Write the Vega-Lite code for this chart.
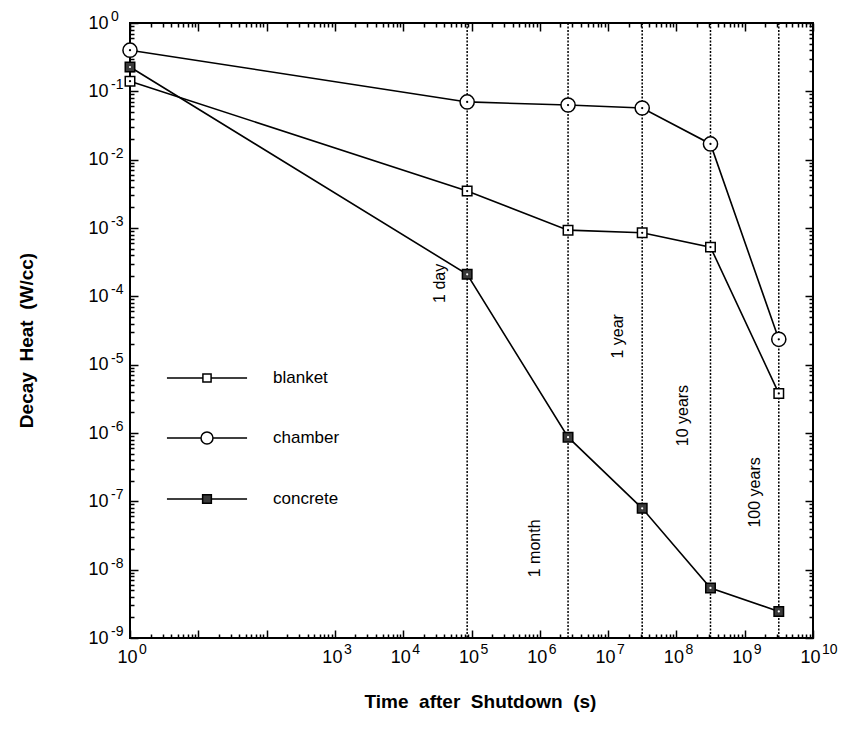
{
  "$schema": "https://vega.github.io/schema/vega-lite/v6.json",
  "width": 683,
  "height": 615,
  "autosize": "none",
  "padding": {"left": 130, "top": 23, "right": 37, "bottom": 91},
  "background": "white",
  "config": {
    "view": {"stroke": "black", "strokeWidth": 2},
    "font": "Liberation Sans",
    "axis": {"labelColor": "black", "tickColor": "black", "titleColor": "black", "grid": false, "domain": false}
  },
  "datasets": {
    "series": [
      {"series": "blanket", "t": 1, "value": 0.141},
      {"series": "blanket", "t": 86400, "value": 0.00347},
      {"series": "blanket", "t": 2592000, "value": 0.00093},
      {"series": "blanket", "t": 31560000, "value": 0.00085},
      {"series": "blanket", "t": 315600000, "value": 0.000525},
      {"series": "blanket", "t": 3156000000, "value": 0.0000038},
      {"series": "chamber", "t": 1, "value": 0.40},
      {"series": "chamber", "t": 86400, "value": 0.070},
      {"series": "chamber", "t": 2592000, "value": 0.063},
      {"series": "chamber", "t": 31560000, "value": 0.057},
      {"series": "chamber", "t": 315600000, "value": 0.017},
      {"series": "chamber", "t": 3156000000, "value": 0.0000235},
      {"series": "concrete", "t": 1, "value": 0.227},
      {"series": "concrete", "t": 86400, "value": 0.00021},
      {"series": "concrete", "t": 2592000, "value": 8.7e-7},
      {"series": "concrete", "t": 31560000, "value": 7.9e-8},
      {"series": "concrete", "t": 315600000, "value": 5.4e-9},
      {"series": "concrete", "t": 3156000000, "value": 2.45e-9}
    ],
    "events": [
      {"label": "1 day", "t": 86400, "lx": 35000, "ly": 1.55e-4},
      {"label": "1 month", "t": 2592000, "lx": 850000, "ly": 2.05e-8},
      {"label": "1 year", "t": 31560000, "lx": 13900000, "ly": 2.6e-5},
      {"label": "10 years", "t": 315600000, "lx": 125000000, "ly": 1.8e-6},
      {"label": "100 years", "t": 3156000000, "lx": 1410000000, "ly": 1.35e-7}
    ],
    "xexp": [
      {"v": 1, "e": "0"}, {"v": 1e3, "e": "3"}, {"v": 1e4, "e": "4"}, {"v": 1e5, "e": "5"},
      {"v": 1e6, "e": "6"}, {"v": 1e7, "e": "7"}, {"v": 1e8, "e": "8"}, {"v": 1e9, "e": "9"}, {"v": 1e10, "e": "10"}
    ],
    "yexp": [
      {"v": 1, "e": "0"}, {"v": 0.1, "e": "-1"}, {"v": 0.01, "e": "-2"}, {"v": 1e-3, "e": "-3"}, {"v": 1e-4, "e": "-4"},
      {"v": 1e-5, "e": "-5"}, {"v": 1e-6, "e": "-6"}, {"v": 1e-7, "e": "-7"}, {"v": 1e-8, "e": "-8"}, {"v": 1e-9, "e": "-9"}
    ]
  },
  "layer": [
    {
      "data": {"name": "events"},
      "mark": {"type": "rule", "strokeDash": [2, 1.5], "strokeWidth": 1.5, "color": "black"},
      "encoding": {
        "x": {
          "field": "t", "type": "quantitative",
          "scale": {"type": "log", "domain": [1, 1e10]},
          "axis": {
            "orient": "bottom", "title": "Time\u00a0 after\u00a0 Shutdown\u00a0 (s)",
            "titleFont": "Liberation Sans", "titleFontSize": 19, "titleFontWeight": "bold",
            "titleX": 350, "titleY": 69, "titleBaseline": "alphabetic", "titleAlign": "center",
            "values": [1,2,3,4,5,6,7,8,9,10,20,30,40,50,60,70,80,90,100,200,300,400,500,600,700,800,900,1e3,2e3,3e3,4e3,5e3,6e3,7e3,8e3,9e3,1e4,2e4,3e4,4e4,5e4,6e4,7e4,8e4,9e4,1e5,2e5,3e5,4e5,5e5,6e5,7e5,8e5,9e5,1e6,2e6,3e6,4e6,5e6,6e6,7e6,8e6,9e6,1e7,2e7,3e7,4e7,5e7,6e7,7e7,8e7,9e7,1e8,2e8,3e8,4e8,5e8,6e8,7e8,8e8,9e8,1e9,2e9,3e9,4e9,5e9,6e9,7e9,8e9,9e9,1e10],
            "labelExpr": "abs(log(datum.value)/LN10 - round(log(datum.value)/LN10)) > 0.001 || round(log(datum.value)/LN10) == 1 || round(log(datum.value)/LN10) == 2 ? '' : '10'",
            "labelFont": "Liberation Sans", "labelFontSize": 18, "labelOverlap": false, "labelFlush": false, "labelBound": false,
            "labelPadding": 18, "labelBaseline": "top", "labelAlign": "right", "labelOffset": 7,
            "tickSize": {"condition": {"test": "abs(log(datum.value)/LN10 - round(log(datum.value)/LN10)) < 0.001", "value": -8}, "value": -4},
            "tickWidth": 1.5
          }
        }
      }
    },
    {
      "data": {"name": "events"},
      "mark": {"type": "text", "angle": 270, "fontSize": 16, "font": "Liberation Sans", "baseline": "middle", "align": "center", "color": "black"},
      "encoding": {
        "x": {"field": "lx", "type": "quantitative", "axis": null},
        "y": {"field": "ly", "type": "quantitative", "scale": {"type": "log", "domain": [1e-9, 1]}, "axis": null},
        "text": {"field": "label"}
      }
    },
    {
      "data": {"name": "xexp"},
      "mark": {"type": "text", "align": "left", "baseline": "alphabetic", "dx": 9, "dy": 16, "fontSize": 14, "font": "Liberation Sans", "color": "black"},
      "encoding": {
        "x": {"field": "v", "type": "quantitative", "axis": null},
        "y": {"datum": 1e-9, "type": "quantitative", "axis": null},
        "text": {"field": "e"}
      }
    },
    {
      "data": {"name": "yexp"},
      "mark": {"type": "text", "align": "left", "baseline": "alphabetic", "dx": -19, "dy": -2, "fontSize": 14, "font": "Liberation Sans", "color": "black"},
      "encoding": {
        "x": {"datum": 1, "type": "quantitative", "axis": null},
        "y": {"field": "v", "type": "quantitative", "axis": null},
        "text": {"field": "e"}
      }
    },
    {
      "data": {"name": "series"},
      "mark": {"type": "line", "color": "black", "strokeWidth": 1.6},
      "encoding": {
        "x": {"field": "t", "type": "quantitative", "axis": null},
        "y": {
          "field": "value", "type": "quantitative",
          "axis": {
            "orient": "left", "title": "Decay\u00a0 Heat\u00a0 (W/cc)",
            "titleFont": "Liberation Sans", "titleFontSize": 19, "titleFontWeight": "bold",
            "titleX": -94, "titleY": 317, "titleAngle": 270, "titleAlign": "center", "titleBaseline": "bottom",
            "values": [1e-9,2e-9,3e-9,4e-9,5e-9,6e-9,7e-9,8e-9,9e-9,1e-8,2e-8,3e-8,4e-8,5e-8,6e-8,7e-8,8e-8,9e-8,1e-7,2e-7,3e-7,4e-7,5e-7,6e-7,7e-7,8e-7,9e-7,1e-6,2e-6,3e-6,4e-6,5e-6,6e-6,7e-6,8e-6,9e-6,1e-5,2e-5,3e-5,4e-5,5e-5,6e-5,7e-5,8e-5,9e-5,1e-4,2e-4,3e-4,4e-4,5e-4,6e-4,7e-4,8e-4,9e-4,1e-3,2e-3,3e-3,4e-3,5e-3,6e-3,7e-3,8e-3,9e-3,0.01,0.02,0.03,0.04,0.05,0.06,0.07,0.08,0.09,0.1,0.2,0.3,0.4,0.5,0.6,0.7,0.8,0.9,1],
            "labelExpr": "abs(log(datum.value)/LN10 - round(log(datum.value)/LN10)) > 0.001 ? '' : '10'",
            "labelFont": "Liberation Sans", "labelFontSize": 18, "labelOverlap": false, "labelFlush": false, "labelBound": false,
            "labelPadding": 30, "labelBaseline": "middle",
            "tickSize": {"condition": {"test": "abs(log(datum.value)/LN10 - round(log(datum.value)/LN10)) < 0.001", "value": -8}, "value": -4},
            "tickWidth": 1.5
          }
        },
        "detail": {"field": "series"}
      }
    },
    {
      "data": {"name": "series"},
      "mark": {"type": "point", "filled": true, "stroke": "black", "strokeWidth": 1.5, "opacity": 1},
      "encoding": {
        "x": {
          "field": "t", "type": "quantitative",
          "axis": {
            "orient": "top", "title": null, "labels": false,
            "values": [1,2,3,4,5,6,7,8,9,10,20,30,40,50,60,70,80,90,100,200,300,400,500,600,700,800,900,1e3,2e3,3e3,4e3,5e3,6e3,7e3,8e3,9e3,1e4,2e4,3e4,4e4,5e4,6e4,7e4,8e4,9e4,1e5,2e5,3e5,4e5,5e5,6e5,7e5,8e5,9e5,1e6,2e6,3e6,4e6,5e6,6e6,7e6,8e6,9e6,1e7,2e7,3e7,4e7,5e7,6e7,7e7,8e7,9e7,1e8,2e8,3e8,4e8,5e8,6e8,7e8,8e8,9e8,1e9,2e9,3e9,4e9,5e9,6e9,7e9,8e9,9e9,1e10],
            "tickSize": {"condition": {"test": "abs(log(datum.value)/LN10 - round(log(datum.value)/LN10)) < 0.001", "value": -8}, "value": -4},
            "tickWidth": 1.5
          }
        },
        "y": {
          "field": "value", "type": "quantitative",
          "axis": {
            "orient": "right", "title": null, "labels": false,
            "values": [1e-9,2e-9,3e-9,4e-9,5e-9,6e-9,7e-9,8e-9,9e-9,1e-8,2e-8,3e-8,4e-8,5e-8,6e-8,7e-8,8e-8,9e-8,1e-7,2e-7,3e-7,4e-7,5e-7,6e-7,7e-7,8e-7,9e-7,1e-6,2e-6,3e-6,4e-6,5e-6,6e-6,7e-6,8e-6,9e-6,1e-5,2e-5,3e-5,4e-5,5e-5,6e-5,7e-5,8e-5,9e-5,1e-4,2e-4,3e-4,4e-4,5e-4,6e-4,7e-4,8e-4,9e-4,1e-3,2e-3,3e-3,4e-3,5e-3,6e-3,7e-3,8e-3,9e-3,0.01,0.02,0.03,0.04,0.05,0.06,0.07,0.08,0.09,0.1,0.2,0.3,0.4,0.5,0.6,0.7,0.8,0.9,1],
            "tickSize": {"condition": {"test": "abs(log(datum.value)/LN10 - round(log(datum.value)/LN10)) < 0.001", "value": -8}, "value": -4},
            "tickWidth": 1.5
          }
        },
        "shape": {"condition": {"test": "datum.series === 'chamber'", "value": "circle"}, "value": "square"},
        "fill": {"condition": {"test": "datum.series === 'concrete'", "value": "#3a3a3a"}, "value": "white"},
        "size": {"condition": {"test": "datum.series === 'chamber'", "value": 200}, "value": 90}
      }
    },
    {
      "data": {"name": "series"},
      "mark": {"type": "point", "filled": true, "shape": "circle", "size": 5, "opacity": 1},
      "encoding": {
        "x": {"field": "t", "type": "quantitative", "axis": null},
        "y": {"field": "value", "type": "quantitative", "axis": null},
        "fill": {"condition": {"test": "datum.series === 'concrete'", "value": "white"}, "value": "black"}
      }
    },
    {
      "data": {"name": "series"},
      "transform": [{"filter": "false"}],
      "mark": {"type": "point", "filled": false, "strokeWidth": 1.5, "opacity": 1},
      "encoding": {
        "x": {"field": "t", "type": "quantitative", "axis": null},
        "y": {"field": "value", "type": "quantitative", "axis": null},
        "shape": {
          "field": "series", "type": "nominal",
          "scale": {
            "domain": ["blanket", "chamber", "concrete"],
            "range": [
              "M-1.47,0H-0.15M0.15,0H1.47M-0.15,-0.15H0.15V0.15H-0.15Z",
              "M-1.47,0H-0.22M0.22,0H1.47M0.22,0A0.22,0.22,0,1,1,-0.22,0A0.22,0.22,0,1,1,0.22,0Z",
              "M-1.47,0H-0.16M0.16,0H1.47M-0.16,-0.16H0.16V0.16H-0.16Z"
            ]
          },
          "legend": {
            "title": null, "orient": "none", "legendX": 49, "legendY": 327, "padding": 0,
            "symbolSize": 2970, "symbolStrokeWidth": 1.5, "symbolOpacity": 1,
            "labelFont": "Liberation Sans", "labelFontSize": 17, "labelColor": "black", "labelOffset": 38,
            "rowPadding": 24
          }
        },
        "fill": {
          "field": "series", "type": "nominal",
          "scale": {"domain": ["blanket", "chamber", "concrete"], "range": ["white", "white", "#3a3a3a"]},
          "legend": {
            "title": null, "orient": "none", "legendX": 49, "legendY": 327, "padding": 0,
            "symbolSize": 2970, "symbolStrokeWidth": 1.5, "symbolOpacity": 1,
            "labelFont": "Liberation Sans", "labelFontSize": 17, "labelColor": "black", "labelOffset": 38,
            "rowPadding": 24
          }
        },
        "stroke": {
          "field": "series", "type": "nominal",
          "scale": {"domain": ["blanket", "chamber", "concrete"], "range": ["black", "black", "black"]},
          "legend": {
            "title": null, "orient": "none", "legendX": 49, "legendY": 327, "padding": 0,
            "symbolSize": 2970, "symbolStrokeWidth": 1.5, "symbolOpacity": 1,
            "labelFont": "Liberation Sans", "labelFontSize": 17, "labelColor": "black", "labelOffset": 38,
            "rowPadding": 24
          }
        }
      }
    }
  ],
  "resolve": {"axis": {"x": "independent", "y": "independent"}}
}
